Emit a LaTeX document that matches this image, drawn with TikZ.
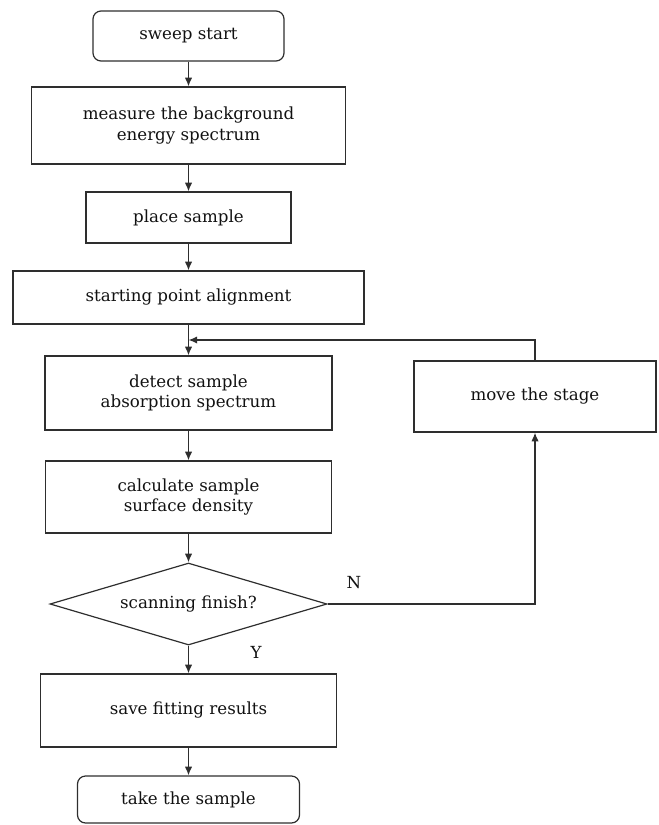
\documentclass[tikz,border=0pt]{standalone}
\usepackage{fontspec}
\setmainfont{DejaVu Serif}
\usetikzlibrary{shapes.geometric,arrows.meta}
\definecolor{linegray}{HTML}{2E2E2E}
\definecolor{txt}{HTML}{111111}
\begin{document}
\begin{tikzpicture}[x=0.75pt,y=-0.75pt,
  font=\fontsize{12.5}{15.5}\selectfont,
  every node/.style={text=txt},
  box/.style={draw=linegray,line width=0.9pt,rectangle,align=center,inner sep=0pt},
  term/.style={box,rounded corners=6pt},
  dec/.style={draw=linegray,line width=0.9pt,diamond,shape aspect=3.38,align=center,inner sep=0pt},
  flow/.style={draw=linegray,line width=1pt,-{Latex[length=6.5pt,width=5.5pt]}},
  lab/.style={inner sep=0pt}]
\useasboundingbox (0,0) rectangle (658,825);

\node[term, minimum width=143.25pt, minimum height=37.5pt] (sweep) at (188.5,36) {sweep start};
\node[box, minimum width=235.5pt, minimum height=57.75pt] (measure) at (188.5,125.5) {measure the background\\energy spectrum};
\node[box, minimum width=153.75pt, minimum height=38.25pt] (place) at (188.5,217.5) {place sample};
\node[box, minimum width=263.25pt, minimum height=39.75pt] (align) at (188.5,297.5) {starting point alignment};
\node[box, minimum width=215.25pt, minimum height=55.5pt] (detect) at (188.5,393) {detect sample\\absorption spectrum};
\node[box, minimum width=181.5pt, minimum height=53.25pt] (move) at (535,396.5) {move the stage};
\node[box, minimum width=214.5pt, minimum height=54pt] (calc) at (188.5,497) {calculate sample\\surface density};
\node[dec, minimum width=207.75pt, minimum height=61.5pt] (finish) at (188.5,604) {scanning finish?};
\node[box, minimum width=222pt, minimum height=54.75pt] (save) at (188.5,710.5) {save fitting results};
\node[term, minimum width=166.5pt, minimum height=35.25pt] (take) at (188.5,799.5) {take the sample};

\node[lab] (nlab) at (354,583) {N};
\node[lab] (ylab) at (256,652) {Y};
\coordinate (join) at (188.5,340);

\draw[flow] (sweep) -- (measure);
\draw[flow] (measure) -- (place);
\draw[flow] (place) -- (align);
\draw[flow] (align) -- (detect);
\draw[flow] (move.north) |- (join);
\draw[flow] (detect) -- (calc);
\draw[flow] (calc) -- (finish);
\draw[flow] (finish.east) -| (move.south);
\draw[flow] (finish.south) -- (save);
\draw[flow] (save) -- (take);
\end{tikzpicture}
\end{document}
